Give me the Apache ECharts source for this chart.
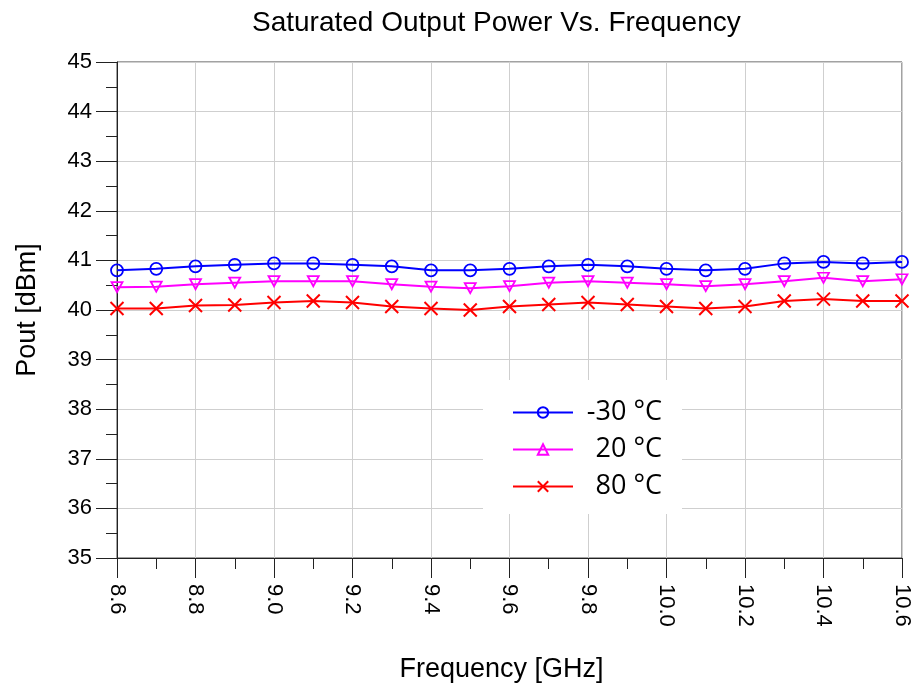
<!DOCTYPE html>
<html>
<head>
<meta charset="utf-8">
<script src="https://cdn.jsdelivr.net/npm/echarts@6/dist/echarts.min.js"></script>
<style>
  html, body { margin: 0; padding: 0; background: #fff; }
  #chart { width: 916px; height: 689px; }
</style>
</head>
<body>
<div id="chart"></div>
<script>
// Frequency sweep points (GHz)
const frequencies = [8.6, 8.7, 8.8, 8.9, 9.0, 9.1, 9.2, 9.3, 9.4, 9.5, 9.6,
                     9.7, 9.8, 9.9, 10.0, 10.1, 10.2, 10.3, 10.4, 10.5, 10.6];

// Saturated output power (dBm) at each temperature
const poutMinus30 = [40.80, 40.83, 40.88, 40.91, 40.94, 40.94, 40.91, 40.88, 40.80, 40.80, 40.83,
                     40.88, 40.91, 40.88, 40.83, 40.80, 40.83, 40.94, 40.97, 40.94, 40.97];
const pout20 = [40.46, 40.47, 40.52, 40.55, 40.58, 40.58, 40.58, 40.52, 40.47, 40.44, 40.48,
                40.55, 40.58, 40.55, 40.52, 40.48, 40.52, 40.58, 40.65, 40.58, 40.62];
const pout80 = [40.03, 40.03, 40.09, 40.10, 40.15, 40.18, 40.15, 40.07, 40.03, 40.00, 40.07,
                40.11, 40.15, 40.11, 40.07, 40.03, 40.07, 40.18, 40.22, 40.18, 40.18];

const seriesNames = ['-30 °C', '20 °C', '80 °C'];

const pairs = vals => frequencies.map((f, i) => [f, vals[i]]);

const axisFont = { fontFamily: 'Liberation Sans', fontSize: 22, color: '#000' };
const nameFont = { fontFamily: 'Liberation Sans', fontSize: 27, color: '#000' };

const chart = echarts.init(document.getElementById('chart'), null, { renderer: 'canvas' });

chart.setOption({
  animation: false,
  backgroundColor: '#fff',
  title: {
    text: 'Saturated Output Power Vs. Frequency',
    left: 247,
    top: 4,
    textStyle: { fontFamily: 'Liberation Sans', fontSize: 28, fontWeight: 'normal', color: '#000' }
  },
  grid: {
    left: 117, right: 14, top: 62, bottom: 131,
    outerBoundsMode: 'none',
    containLabel: false,
    show: true, borderColor: '#444', borderWidth: 1, backgroundColor: 'transparent'
  },
  legend: {
    left: 483, top: 380,
    orient: 'vertical',
    backgroundColor: '#fff',
    padding: [19, 20, 14, 29],
    itemWidth: 60,
    itemHeight: 13,
    itemGap: 10,
    symbolRotate: 0,
    data: seriesNames,
    formatter: '{t|{name}}',
    textStyle: {
      rich: {
        t: { fontFamily: 'Open Sans', fontSize: 27, color: '#000', width: 84, align: 'right', lineHeight: 29 }
      }
    }
  },
  xAxis: {
    type: 'value',
    min: 8.6, max: 10.6, interval: 0.2,
    name: 'Frequency [GHz]',
    nameLocation: 'middle',
    nameGap: 98,
    nameTextStyle: Object.assign({ padding: [0, 16, 0, 0] }, nameFont),
    axisLine: { show: true, lineStyle: { color: '#222', width: 1 } },
    axisTick: { show: true, length: 20, lineStyle: { color: '#222' } },
    minorTick: { show: true, splitNumber: 2, length: 11, lineStyle: { color: '#222' } },
    axisLabel: Object.assign({ rotate: -90, margin: 26, formatter: v => v.toFixed(1) }, axisFont),
    splitLine: { show: true, lineStyle: { color: '#cfcfcf', width: 1 } }
  },
  yAxis: {
    type: 'value',
    min: 35, max: 45, interval: 1,
    name: 'Pout [dBm]',
    nameLocation: 'middle',
    nameGap: 76,
    nameTextStyle: nameFont,
    axisLine: { show: true, lineStyle: { color: '#222', width: 1 } },
    axisTick: { show: true, length: 21, lineStyle: { color: '#222' } },
    minorTick: { show: true, splitNumber: 2, length: 11, lineStyle: { color: '#222' } },
    axisLabel: Object.assign({ margin: 25 }, axisFont),
    splitLine: { show: true, lineStyle: { color: '#cfcfcf', width: 1 } }
  },
  series: [
    {
      name: seriesNames[0],
      type: 'line',
      data: pairs(poutMinus30),
      symbol: 'circle',
      symbolSize: 12,
      lineStyle: { color: '#0000ff', width: 2 },
      itemStyle: { color: 'rgba(0,0,0,0)', borderColor: '#0000ff', borderWidth: 1.8 }
    },
    {
      name: seriesNames[1],
      type: 'line',
      data: pairs(pout20),
      symbol: 'triangle',
      symbolRotate: 180,
      symbolSize: [11, 10],
      lineStyle: { color: '#ff00ff', width: 2 },
      itemStyle: { color: 'rgba(0,0,0,0)', borderColor: '#ff00ff', borderWidth: 1.8 }
    },
    {
      name: seriesNames[2],
      type: 'line',
      data: pairs(pout80),
      symbol: 'path://M0,0L10,10M10,0L0,10',
      symbolSize: 13,
      lineStyle: { color: '#ff0000', width: 2 },
      itemStyle: { color: 'rgba(0,0,0,0)', borderColor: '#ff0000', borderWidth: 2 }
    }
  ]
});
</script>
</body>
</html>
